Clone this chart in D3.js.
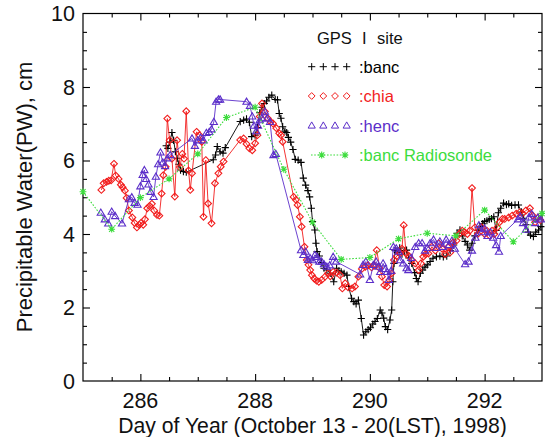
<!DOCTYPE html>
<html><head><meta charset="utf-8">
<script src="https://cdn.jsdelivr.net/npm/d3@7"></script>
<style>html,body{margin:0;padding:0;background:#fff;}svg{display:block;font-family:"Liberation Sans",Arial,sans-serif;}</style>
</head><body>
<svg id="c" width="545" height="437"></svg>
<script>
// ---- data (day of year, precipitable water cm) ----
const banc = [[286.45,6.40],[286.48,6.33],[286.51,6.50],[286.55,6.76],[286.58,6.55],[286.61,6.24],[286.64,6.06],[286.67,5.90],[286.70,5.74],[286.75,5.70],[286.80,5.68],[287.27,6.02],[287.31,6.15],[287.34,6.38],[287.39,6.24],[287.44,6.20],[287.48,6.35],[287.74,7.06],[287.80,7.10],[287.85,7.13],[287.90,7.04],[287.94,6.65],[288.00,6.69],[288.04,6.90],[288.08,7.30],[288.12,7.45],[288.16,7.55],[288.20,7.62],[288.24,7.72],[288.29,7.78],[288.35,7.66],[288.39,7.65],[288.42,7.28],[288.45,7.15],[288.48,6.92],[288.52,6.80],[288.55,6.76],[288.58,6.63],[288.62,6.50],[288.66,6.30],[288.70,6.03],[288.75,6.01],[288.80,5.95],[288.84,5.52],[288.88,5.33],[288.92,5.18],[288.95,5.01],[288.98,4.70],[289.00,4.34],[289.04,4.11],[289.06,3.75],[289.08,3.52],[289.12,3.40],[289.16,3.22],[289.20,3.07],[289.25,3.02],[289.31,2.93],[289.37,2.70],[289.42,3.07],[289.46,3.00],[289.50,2.97],[289.55,2.93],[289.60,2.88],[289.63,2.57],[289.68,2.25],[289.72,2.16],[289.76,2.10],[289.80,2.20],[289.85,1.70],[289.89,1.25],[289.93,1.34],[289.97,1.40],[290.01,1.45],[290.05,1.55],[290.09,1.62],[290.13,1.70],[290.18,1.93],[290.21,1.85],[290.24,1.71],[290.27,1.48],[290.31,1.40],[290.35,1.66],[290.38,1.93],[290.40,2.70],[290.42,3.20],[290.44,3.55],[290.48,3.50],[290.52,3.62],[290.56,3.45],[290.60,3.55],[290.64,3.56],[290.68,3.35],[290.73,3.20],[290.78,2.95],[290.81,2.79],[290.84,2.70],[290.88,2.93],[290.92,3.02],[290.96,3.10],[291.00,3.16],[291.05,3.25],[291.10,3.34],[291.16,3.38],[291.22,3.40],[291.28,3.38],[291.34,3.40],[291.40,3.55],[291.46,3.70],[291.52,4.02],[291.57,4.11],[291.61,3.95],[291.66,3.80],[291.70,3.70],[291.74,3.56],[291.78,3.75],[291.83,3.95],[291.88,4.10],[291.92,4.20],[291.96,4.28],[292.00,4.34],[292.04,4.36],[292.08,4.40],[292.12,4.42],[292.16,4.47],[292.20,4.10],[292.24,4.58],[292.28,4.70],[292.33,4.84],[292.38,4.80],[292.42,4.82],[292.47,4.78],[292.53,4.79],[292.59,4.79],[292.64,4.60],[292.68,4.43],[292.72,4.25],[292.76,4.05],[292.80,3.97],[292.85,3.93],[292.89,4.05],[292.94,4.11],[292.98,4.20]];

const chia = [[285.32,5.20],[285.36,5.38],[285.41,5.42],[285.45,5.45],[285.49,5.46],[285.54,5.91],[285.57,5.59],[285.62,5.50],[285.66,5.34],[285.69,5.27],[285.73,5.18],[285.76,4.98],[285.80,4.64],[285.86,4.45],[285.90,4.30],[285.94,4.18],[285.98,4.25],[286.01,4.30],[286.05,4.25],[286.08,4.40],[286.12,4.70],[286.16,4.76],[286.20,4.82],[286.24,4.64],[286.29,4.52],[286.33,4.50],[286.37,5.10],[286.40,5.60],[286.44,5.83],[286.47,7.14],[286.51,6.55],[286.55,6.05],[286.60,5.02],[286.64,6.55],[286.69,5.82],[286.73,6.18],[286.76,6.05],[286.80,7.34],[286.84,5.73],[286.87,5.20],[286.90,5.65],[286.98,6.78],[287.03,6.69],[287.07,6.51],[287.10,4.47],[287.14,6.01],[287.18,4.83],[287.24,4.29],[287.30,5.38],[287.36,5.65],[287.40,5.83],[287.45,5.97],[287.74,6.56],[287.80,6.60],[287.85,6.45],[287.90,6.33],[287.95,6.28],[288.00,6.47],[288.04,6.69],[288.08,7.20],[288.12,7.55],[288.17,7.33],[288.22,7.15],[288.27,7.05],[288.31,7.01],[288.37,6.88],[288.42,6.74],[288.45,6.69],[288.48,6.51],[288.67,5.01],[288.71,4.93],[288.74,4.79],[288.78,4.47],[288.81,4.20],[288.86,3.65],[288.90,3.29],[288.93,3.16],[288.96,3.02],[288.99,2.88],[289.03,2.79],[289.07,2.73],[289.11,2.70],[289.16,2.75],[289.22,2.84],[289.27,2.93],[289.31,2.85],[289.36,2.97],[289.42,2.95],[289.48,2.88],[289.52,2.52],[289.57,2.66],[289.62,2.55],[289.69,2.52],[289.74,2.57],[289.80,2.84],[289.86,3.05],[289.92,3.11],[289.97,3.15],[290.03,3.09],[290.07,3.15],[290.12,3.56],[290.17,3.07],[290.21,2.84],[290.25,2.61],[290.30,2.57],[290.34,2.75],[290.38,2.93],[290.42,3.29],[290.47,3.40],[290.52,3.47],[290.56,3.60],[290.59,4.24],[290.63,3.47],[290.68,3.40],[290.73,3.29],[290.79,3.20],[290.85,3.02],[290.89,3.20],[290.93,3.38],[290.97,3.45],[291.02,3.47],[291.08,3.65],[291.14,3.55],[291.20,3.75],[291.26,3.60],[291.31,3.45],[291.36,3.64],[291.40,3.50],[291.45,3.77],[291.51,3.82],[291.56,4.00],[291.61,4.09],[291.65,4.05],[291.70,4.00],[291.74,4.09],[291.78,5.25],[291.83,4.18],[291.88,4.00],[291.95,4.18],[292.00,4.00],[292.04,4.09],[292.09,3.95],[292.13,4.09],[292.17,4.00],[292.22,4.18],[292.26,4.32],[292.31,4.41],[292.35,4.41],[292.42,4.45],[292.48,4.50],[292.55,4.55],[292.61,4.59],[292.66,4.56],[292.72,4.64],[292.79,4.70],[292.84,4.50],[292.88,4.32],[292.93,4.45],[292.97,4.38]];

const henc = [[285.31,4.58],[285.38,4.40],[285.44,4.29],[285.50,4.61],[285.56,4.49],[285.68,4.29],[285.80,4.95],[285.85,5.00],[285.90,4.85],[285.95,4.80],[286.00,5.30],[286.04,5.61],[286.07,5.74],[286.10,5.50],[286.14,5.35],[286.18,5.15],[286.23,5.01],[286.27,5.56],[286.31,5.90],[286.35,6.22],[286.39,5.95],[286.43,5.85],[286.47,6.06],[286.52,6.15],[286.90,6.60],[286.95,6.40],[287.00,6.55],[287.05,6.62],[287.10,6.55],[287.15,6.75],[287.20,6.78],[287.24,6.85],[287.28,7.05],[287.32,7.60],[287.36,7.66],[287.39,7.66],[287.85,7.60],[287.91,7.49],[287.95,7.20],[287.98,6.95],[288.02,6.80],[288.05,6.95],[288.08,7.10],[288.12,7.15],[288.17,7.33],[288.21,7.15],[288.26,7.05],[288.32,6.15],[288.36,6.18],[288.80,3.56],[288.84,3.43],[288.88,3.52],[288.92,3.30],[288.96,3.34],[289.00,3.29],[289.04,3.43],[289.08,3.38],[289.12,3.25],[289.16,3.25],[289.20,3.18],[289.25,3.11],[289.30,3.15],[289.36,3.38],[289.41,3.25],[289.83,2.90],[289.88,3.16],[289.93,3.25],[290.00,2.75],[290.06,3.16],[290.11,3.25],[290.15,3.11],[290.18,2.97],[290.23,3.20],[290.27,3.05],[290.30,2.97],[290.33,2.75],[290.37,3.00],[290.41,3.65],[290.46,3.61],[290.50,3.52],[290.53,3.29],[290.58,3.20],[290.64,3.07],[290.67,3.02],[290.72,3.35],[290.79,3.65],[290.85,3.75],[290.91,3.75],[290.96,3.55],[291.00,3.62],[291.05,3.75],[291.11,3.85],[291.16,3.62],[291.22,3.80],[291.27,3.65],[291.33,3.85],[291.38,3.70],[291.43,3.82],[291.48,3.60],[291.66,3.18],[291.72,3.25],[291.78,3.55],[291.84,3.90],[291.90,4.24],[291.95,4.05],[292.00,4.15],[292.05,3.95],[292.10,4.05],[292.15,3.90],[292.20,3.70],[292.25,3.52],[292.28,3.95],[292.58,4.40],[292.62,4.47],[292.67,4.30],[292.72,4.12],[292.77,4.45],[292.82,4.55],[292.88,4.30],[292.93,4.45],[292.98,4.40]];

const sonde = [[285.0,5.15],[285.5,4.13],[286.0,4.99],[286.5,5.50],[287.0,6.18],[287.5,7.17],[288.0,7.45],[288.5,5.76],[289.0,4.32],[289.5,3.31],[290.0,3.36],[290.5,3.87],[291.0,4.02],[291.5,3.95],[292.0,4.65],[292.5,3.79],[293.0,4.56]];

const xTicks = [286, 288, 290, 292];
const yTicks = [0, 2, 4, 6, 8, 10];
const xTitle = "Day of Year (October 13 - 20(LST), 1998)";
const yTitle = "Precipitable Water(PW), cm";
const legendTitle = ["GPS", "I", "site"];
const legendNames = [":banc", ":chia", ":henc", ":banc Radiosonde"];

// ---- layout ----
const svg = d3.select("#c");
const L = 83, R = 542, T = 13.5, B = 381;
const x = d3.scaleLinear().domain([285, 293]).range([L, R]);
const y = d3.scaleLinear().domain([0, 10]).range([B, T]);

const colBanc = "#000000", colChia = "#f21d1d", colHenc = "#5b2ec9", colSonde = "#3ddc3d";
const fs = 21.5;

// frame
svg.append("rect").attr("x", L).attr("y", T).attr("width", R - L).attr("height", B - T)
  .attr("fill", "none").attr("stroke", "#000").attr("stroke-width", 1.2);

// ticks via d3 axes (inward)
const xMinor = d3.range(285.5, 293, 0.5).filter(v => !xTicks.includes(v));
const yMinor = d3.range(0.5, 10, 0.5).filter(v => !yTicks.includes(v));
function tickAxis(axisFn, scale, vals, size, tr) {
  const g = svg.append("g").attr("transform", tr)
    .call(axisFn(scale).tickValues(vals).tickSize(size).tickFormat(""));
  g.select(".domain").remove();
  g.selectAll("line").attr("stroke", "#000").attr("stroke-width", 1.1);
  return g;
}
tickAxis(d3.axisTop, x, xTicks, 7, `translate(0,${B})`);
tickAxis(d3.axisTop, x, xMinor, 4, `translate(0,${B})`);
tickAxis(d3.axisBottom, x, xTicks, 7, `translate(0,${T})`);
tickAxis(d3.axisBottom, x, xMinor, 4, `translate(0,${T})`);
tickAxis(d3.axisRight, y, yTicks.slice(1, -1), 7, `translate(${L},0)`);
tickAxis(d3.axisRight, y, yMinor, 4, `translate(${L},0)`);
tickAxis(d3.axisLeft, y, yTicks.slice(1, -1), 7, `translate(${R},0)`);
tickAxis(d3.axisLeft, y, yMinor, 4, `translate(${R},0)`);

// tick labels
svg.append("g").selectAll("text").data(xTicks).join("text")
  .attr("x", d => x(d)).attr("y", 407.5).attr("text-anchor", "middle")
  .attr("font-size", fs).attr("fill", "#111").text(d => d);
svg.append("g").selectAll("text").data(yTicks).join("text")
  .attr("x", 75).attr("y", d => y(d)).attr("dy", "0.36em").attr("text-anchor", "end")
  .attr("font-size", fs).attr("fill", "#111").text(d => d);

// axis titles
svg.append("text").attr("x", 312.5).attr("y", 432.5).attr("text-anchor", "middle")
  .attr("font-size", 21.2).attr("fill", "#111").text(xTitle);
svg.append("text").attr("transform", "translate(32,197) rotate(-90)").attr("text-anchor", "middle")
  .attr("font-size", 22).attr("fill", "#111").text(yTitle);

// marker shapes
const plusP = "M-3.6,0H3.6M0,-3.6V3.6";
const diamP = "M0,-3.4L3.4,0L0,3.4L-3.4,0Z";
const triP = "M0,-3.6L3.6,2.6L-3.6,2.6Z";
const astP = "M-3.4,0H3.4M0,-3.4V3.4M-2.6,-2.6L2.6,2.6M-2.6,2.6L2.6,-2.6";

const line = d3.line().x(d => x(d[0])).y(d => y(d[1]));
function series(data, col, shape, dash, sw) {
  const g = svg.append("g");
  g.append("path").attr("d", line(data)).attr("fill", "none").attr("stroke", col)
    .attr("stroke-width", sw).attr("stroke-dasharray", dash);
  g.selectAll("path.m").data(data).join("path").attr("class", "m")
    .attr("transform", d => `translate(${x(d[0])},${y(d[1])})`)
    .attr("d", shape).attr("fill", "none").attr("stroke", col).attr("stroke-width", 1.1);
}
series(banc, colBanc, plusP, null, 0.9);
series(chia, colChia, diamP, null, 0.9);
series(henc, colHenc, triP, null, 0.9);
series(sonde, colSonde, astP, "1.6,1.6", 1.1);

// legend
const lg = svg.append("g");
const ltx = [317, 362, 377];
legendTitle.forEach((t, i) => lg.append("text").attr("x", ltx[i]).attr("y", 44)
  .attr("font-size", 16.5).attr("fill", "#111").text(t));
const rowsY = [66.7, 96, 125.5, 155];
const shapes = [plusP, diamP, triP];
const cols = [colBanc, colChia, colHenc, colSonde];
const mx = [311.7, 323.3, 335, 346.7];
for (let i = 0; i < 3; i++) {
  lg.selectAll(null).data(mx).join("path")
    .attr("transform", d => `translate(${d},${rowsY[i]})`)
    .attr("d", shapes[i]).attr("fill", "none").attr("stroke", cols[i]).attr("stroke-width", 1);
}
lg.append("line").attr("x1", 311).attr("x2", 349).attr("y1", rowsY[3]).attr("y2", rowsY[3])
  .attr("stroke", colSonde).attr("stroke-width", 1.1).attr("stroke-dasharray", "1.6,1.6");
lg.selectAll(null).data([321.7, 345]).join("path")
  .attr("transform", d => `translate(${d},${rowsY[3]})`)
  .attr("d", astP).attr("fill", "none").attr("stroke", colSonde).attr("stroke-width", 1.1);
legendNames.forEach((t, i) => lg.append("text").attr("x", 359).attr("y", rowsY[i] + 6)
  .attr("font-size", 16.5).attr("fill", cols[i]).text(t));
</script>
</body></html>
